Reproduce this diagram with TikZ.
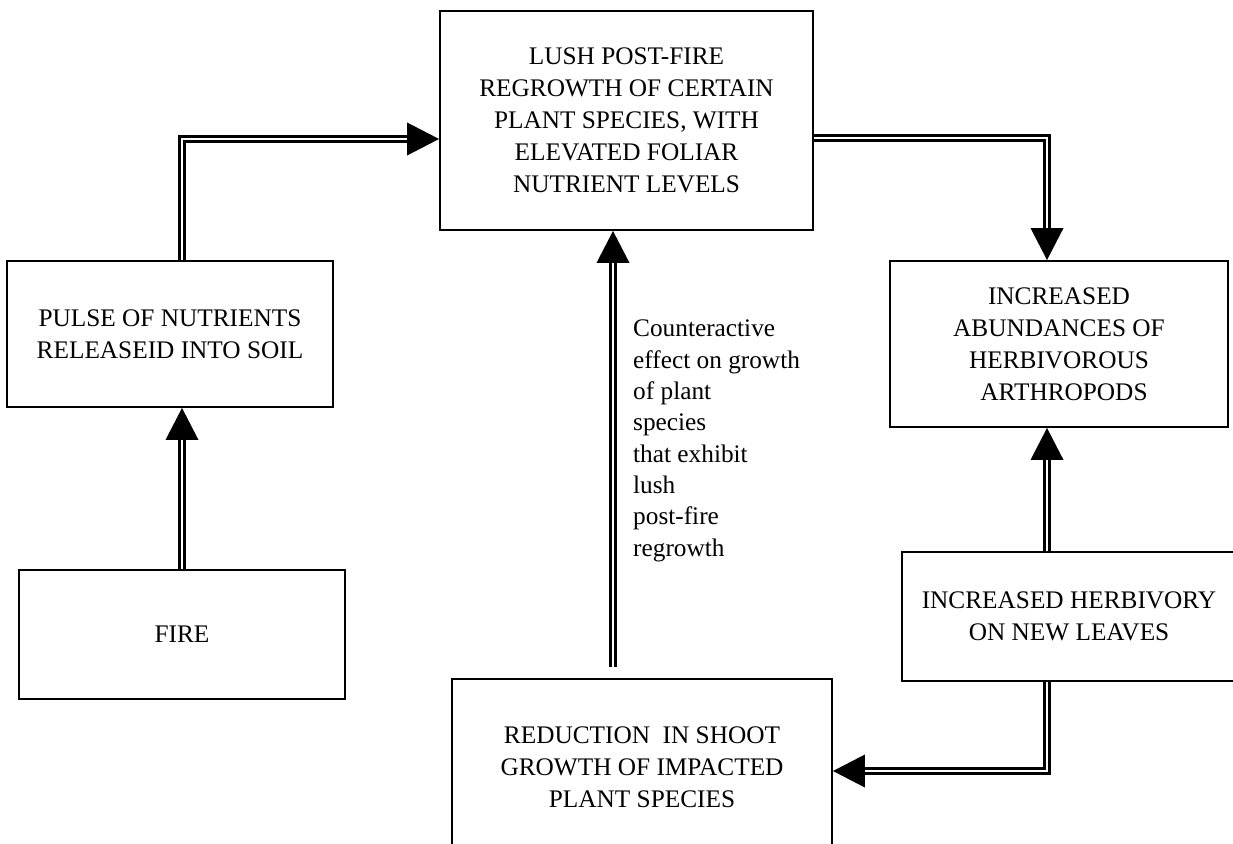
\documentclass[tikz,border=0pt]{standalone}
\usepackage{fontspec}
\setmainfont{Liberation Serif}
\begin{document}
\begin{tikzpicture}[x=1pt,y=-1pt,
  box/.style={draw, line width=1.9pt, inner sep=0pt, align=center,
    font=\fontsize{25.3}{32}\selectfont},
  lbl/.style={inner sep=0pt, align=left, font=\fontsize{25.3}{31.3}\selectfont},
  dbl/.style={draw, double, double distance=2.5pt, line width=2.4pt, shorten >=10pt},
  head/.style={fill=black}]
\useasboundingbox (0,0) rectangle (1233,843);
\clip (0,0) rectangle (1233,843);

\node[box, minimum width=373pt, minimum height=219pt] (top) at (626.5,120.5)
  {LUSH POST-FIRE\\REGROWTH OF CERTAIN\\PLANT SPECIES, WITH\\ELEVATED FOLIAR\\NUTRIENT LEVELS};
\node[box, minimum width=326pt, minimum height=146pt] (pulse) at (170,334)
  {PULSE OF NUTRIENTS\\RELEASEID INTO SOIL};
\node[box, minimum width=326pt, minimum height=129pt] (fire) at (182,634.5) {FIRE};
\node[box, minimum width=338pt, minimum height=166pt] (abund) at (1059,344)
  {INCREASED\\ABUNDANCES OF\\HERBIVOROUS\\\hspace*{10pt}ARTHROPODS};
\node[box, minimum width=334pt, minimum height=129pt] (herb) at (1069,616.5)
  {INCREASED HERBIVORY\\ON NEW LEAVES};
\node[box, minimum width=380pt, minimum height=176pt] (red) at (642,767)
  {REDUCTION\ \ IN SHOOT\\GROWTH OF IMPACTED\\PLANT SPECIES};
\node[lbl, anchor=north west] (lab) at (633,320)
  {Counteractive\\effect on growth\\of plant\\species\\that exhibit\\lush\\post-fire\\regrowth};

% pulse -> top
\coordinate (pn) at ([xshift=12pt]pulse.north);
\coordinate (t1) at (top.west |- 0,139);
\draw[dbl] (pn) |- (t1);
\fill[head] (t1) -- ++(-32,-16.5) -- ++(0,33) -- cycle;

% top -> abund
\coordinate (an) at ([xshift=-12pt]abund.north);
\draw[dbl] (top.east |- 0,138) -| (an);
\fill[head] (an) -- ++(-16.5,-32) -- ++(33,0) -- cycle;

% fire -> pulse
\coordinate (ps) at (pulse.south -| fire.north);
\draw[dbl] (fire.north) -- (ps);
\fill[head] (ps) -- ++(-16.5,32) -- ++(33,0) -- cycle;

% herb -> abund
\coordinate (hn) at ([xshift=-22pt]herb.north);
\coordinate (as) at (abund.south -| hn);
\draw[dbl] (hn) -- (as);
\fill[head] (as) -- ++(-16.5,32) -- ++(33,0) -- cycle;

% herb -> red
\coordinate (hs) at ([xshift=-22pt]herb.south);
\coordinate (re) at (red.east |- 0,771);
\draw[dbl] (hs) |- (re);
\fill[head] (re) -- ++(32,-16.5) -- ++(0,33) -- cycle;

% red -> top
\coordinate (rn) at (red.north -| 613,0);
\coordinate (ts) at (top.south -| 613,0);
\draw[dbl, shorten <=11pt] (rn) -- (ts);
\fill[head] (ts) -- ++(-16.5,32) -- ++(33,0) -- cycle;
\end{tikzpicture}
\end{document}
